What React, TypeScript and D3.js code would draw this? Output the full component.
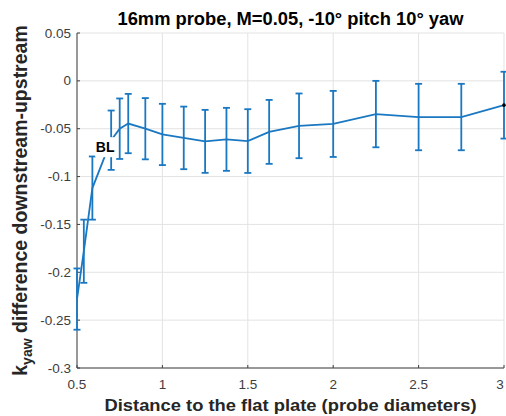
import React from "react";
import * as d3 from "d3";

const xValues = [0.5, 0.54, 0.59, 0.7, 0.75, 0.8, 0.9, 1.0, 1.125, 1.25, 1.375, 1.5, 1.625, 1.8, 2.0, 2.25, 2.5, 2.75, 3.0];
const yValues = [-0.228, -0.178, -0.112, -0.062, -0.050, -0.0446, -0.050, -0.056, -0.0596, -0.0632, -0.0611, -0.0629, -0.0533, -0.047, -0.045, -0.0347, -0.0378, -0.0378, -0.0254];
const errValues = [0.032, 0.033, 0.033, 0.031, 0.0316, 0.031, 0.032, 0.032, 0.0327, 0.0329, 0.0329, 0.0333, 0.0334, 0.0338, 0.0345, 0.0347, 0.0347, 0.0347, 0.0349];
const xTicks = [0.5, 1, 1.5, 2, 2.5, 3];
const yTicks = [0.05, 0, -0.05, -0.1, -0.15, -0.2, -0.25, -0.3];
const titleText = "16mm probe, M=0.05, -10° pitch 10° yaw";
const xLabel = "Distance to the flat plate (probe diameters)";
const annotation = { text: "BL", x: 0.665, y: -0.0693 };

const W = 506;
const H = 416;
const left = 77;
const right = 504;
const top = 33;
const bottom = 368;

const FONT = "'Liberation Sans', Arial, Helvetica, sans-serif";
const LINE = "#1a78c2";
const AXIS = "#404040";
const GRID = "#e3e3e3";
const TICKTXT = "#3d3d3d";

export default function App() {
  const x = d3.scaleLinear().domain([0.5, 3]).range([left, right]);
  const y = d3.scaleLinear().domain([-0.3, 0.05]).range([bottom, top]);
  const pts = xValues.map((v, i) => ({ x: v, y: yValues[i], e: errValues[i] }));
  const line = d3
    .line<{ x: number; y: number }>()
    .x((d) => x(d.x))
    .y((d) => y(d.y));
  const cap = 3.5;
  const last = pts[pts.length - 1];
  const fmt = (v: number) => (Math.abs(v) < 1e-9 ? "0" : String(+v.toFixed(2)));

  return (
    <svg
      width={W}
      height={H}
      style={{ position: "absolute", left: 0, top: 0, background: "#fff" }}
      fontFamily={FONT}
    >
      <rect x={0} y={0} width={W} height={H} fill="#fff" />
      {/* grid */}
      {xTicks.map((t) => (
        <line key={"gx" + t} x1={x(t)} x2={x(t)} y1={top} y2={bottom} stroke={GRID} strokeWidth={1} />
      ))}
      {yTicks.map((t) => (
        <line key={"gy" + t} x1={left} x2={right} y1={y(t)} y2={y(t)} stroke={GRID} strokeWidth={1} />
      ))}
      {/* axes */}
      <line x1={left} x2={left} y1={top} y2={bottom} stroke={AXIS} strokeWidth={1} />
      <line x1={left} x2={right} y1={bottom} y2={bottom} stroke={AXIS} strokeWidth={1} />
      {xTicks.map((t, i) => (
        <g key={"tx" + t}>
          <line x1={x(t)} x2={x(t)} y1={bottom} y2={bottom - 3} stroke={AXIS} strokeWidth={1} />
          <text
            x={i === xTicks.length - 1 ? x(t) - 4 : x(t)}
            y={389}
            textAnchor="middle"
            fontSize={13.5}
            fill={TICKTXT}
          >
            {fmt(t)}
          </text>
        </g>
      ))}
      {yTicks.map((t) => (
        <g key={"ty" + t}>
          <line x1={left} x2={left + 3} y1={y(t)} y2={y(t)} stroke={AXIS} strokeWidth={1} />
          <text x={71} y={y(t) + 4.5} textAnchor="end" fontSize={13.5} fill={TICKTXT}>
            {fmt(t)}
          </text>
        </g>
      ))}
      {/* error bars */}
      {pts.map((p, i) => {
        const cx = x(p.x);
        const y1 = y(p.y + p.e);
        const y2 = y(p.y - p.e);
        return (
          <g key={"eb" + i} stroke={LINE} strokeWidth={1.8}>
            <line x1={cx} x2={cx} y1={y1} y2={y2} />
            <line x1={cx - cap} x2={cx + cap} y1={y1} y2={y1} />
            <line x1={cx - cap} x2={cx + cap} y1={y2} y2={y2} />
          </g>
        );
      })}
      <path d={line(pts) || ""} fill="none" stroke={LINE} strokeWidth={1.8} />
      <circle cx={x(last.x)} cy={y(last.y)} r={1.8} fill="#000" />
      {/* annotation */}
      <rect x={x(annotation.x) - 10} y={y(annotation.y) - 10} width={20} height={20} fill="#fff" />
      <text
        x={x(annotation.x)}
        y={y(annotation.y) + 5}
        textAnchor="middle"
        fontSize={14}
        fontWeight="bold"
        fill="#000"
      >
        {annotation.text}
      </text>
      {/* title */}
      <text
        x={(left + right) / 2}
        y={25}
        textAnchor="middle"
        fontSize={17.5}
        fontWeight="bold"
        fill="#000"
        textLength={346}
        lengthAdjust="spacingAndGlyphs"
      >
        {titleText}
      </text>
      {/* x label */}
      <text
        x={(left + right) / 2}
        y={411}
        textAnchor="middle"
        fontSize={17}
        fontWeight="bold"
        fill="#262626"
        textLength={372}
        lengthAdjust="spacingAndGlyphs"
      >
        {xLabel}
      </text>
      {/* y label */}
      <text
        transform={`translate(27,${(top + bottom) / 2}) rotate(-90)`}
        textAnchor="middle"
        fontSize={19.5}
        fontWeight="bold"
        fill="#262626"
      >
        <tspan>k</tspan>
        <tspan dy={5} fontSize={14}>yaw</tspan>
        <tspan dy={-5}> difference downstream-upstream</tspan>
      </text>
    </svg>
  );
}
